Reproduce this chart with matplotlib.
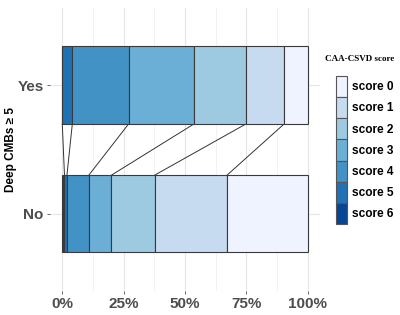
import matplotlib
matplotlib.use("Agg")
import matplotlib.pyplot as plt
from matplotlib.patches import Patch
from matplotlib.ticker import MultipleLocator

groups = ["No", "Yes"]
scores = ["score 0", "score 1", "score 2", "score 3", "score 4", "score 5", "score 6"]
# percentages per score (score 0 .. score 6)
yes_pct = [9.5, 15.5, 21.2, 26.7, 23.0, 4.1, 0.0]
no_pct = [32.9, 29.5, 17.6, 9.2, 8.9, 1.0, 0.9]
colors = ["#EFF3FF", "#C6DBEF", "#9ECAE1", "#6BAED6", "#4292C6", "#2171B5", "#084594"]
xticks = [0, 25, 50, 75, 100]
xticklabels = ["0%", "25%", "50%", "75%", "100%"]

fig = plt.figure(figsize=(4.0, 3.15), dpi=100)
ax = fig.add_axes([0.125, 0.076, 0.675, 0.899])

data = {"No": no_pct, "Yes": yes_pct}
ypos = {"No": 1, "Yes": 2}
bw = 0.6
edge = "#3a3a3a"
cums = {}
for g in groups:
    vals = data[g]
    left = 0.0
    c = []
    # draw from score 6 (leftmost) to score 0
    for i in range(6, -1, -1):
        ax.barh(ypos[g], vals[i], left=left, height=bw, color=colors[i],
                edgecolor=edge, linewidth=0.8, zorder=3)
        left += vals[i]
        c.append(left)
    cums[g] = c

# connecting lines between boundaries
for a, b in zip(cums["Yes"][:-1], cums["No"][:-1]):
    ax.plot([a, b], [2 - bw / 2, 1 + bw / 2], color="#333333", lw=0.7, zorder=2)

ax.set_xlim(-5, 105)
ax.set_ylim(0.4, 2.6)
ax.set_xticks(xticks)
ax.set_xticklabels(xticklabels)
ax.xaxis.set_minor_locator(MultipleLocator(12.5))
ax.set_yticks([1, 2])
ax.set_yticklabels(groups)
ax.grid(True, which="major", color="#e6e6e6", lw=0.8, zorder=0)
ax.grid(True, which="minor", axis="x", color="#f0f0f0", lw=0.6, zorder=0)
ax.set_axisbelow(True)
for s in ax.spines.values():
    s.set_visible(False)
ax.tick_params(axis="both", which="major", length=2.5, color="#4d4d4d", width=0.6,
               labelsize=11, labelcolor="#4d4d4d", pad=2)
ax.tick_params(axis="x", which="minor", length=0)
for lab in ax.get_xticklabels() + ax.get_yticklabels():
    lab.set_fontweight("bold")
    lab.set_fontfamily("Liberation Sans")
ax.set_ylabel("Deep CMBs \u2265 5", fontsize=8.5, fontweight="bold",
              family="Liberation Sans", labelpad=0.5)

handles = [Patch(facecolor=colors[i], edgecolor="#555555", linewidth=0.8, label=scores[i])
           for i in range(7)]
leg = fig.legend(handles=handles, loc="upper left", bbox_to_anchor=(0.84, 0.759),
                 frameon=False, handlelength=0.9, handleheight=2.35, labelspacing=0.0,
                 handletextpad=0.45, borderaxespad=0, borderpad=0,
                 prop={"family": "Liberation Sans", "weight": "bold", "size": 8.6})
fig.text(0.9, 0.813, "CAA-CSVD score", ha="center", va="center",
         family="Liberation Serif", weight="bold", fontsize=6.5)

fig.savefig("out.png", dpi=100, facecolor="white")
